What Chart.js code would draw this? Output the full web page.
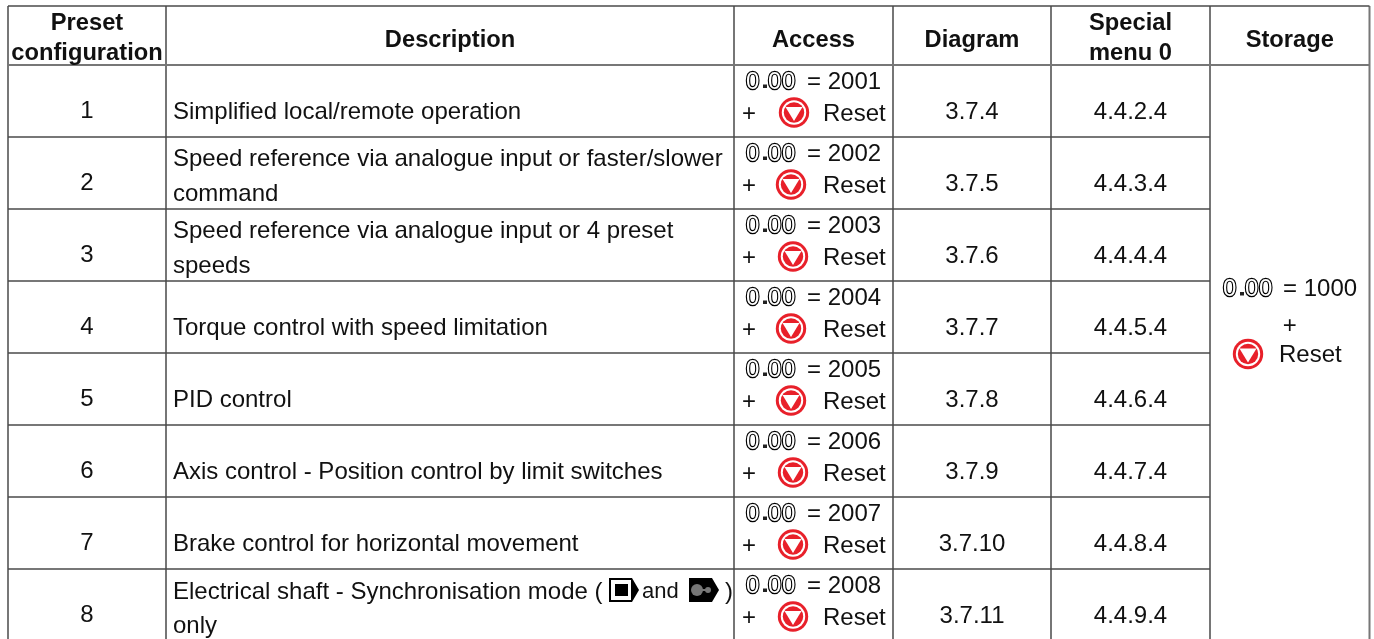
<!DOCTYPE html>
<html>
<head>
<meta charset="utf-8">
<title>Preset configurations</title>
<script src="https://cdn.jsdelivr.net/npm/chart.js@4/dist/chart.umd.js"></script>
<style>
  html, body { margin: 0; padding: 0; background: #fff; overflow: hidden; }
  #wrap { width: 1374px; height: 639px; }
</style>
</head>
<body>
<div id="wrap"><canvas id="chart"></canvas></div>
<script>
// table content
const headers = [["Preset", "configuration"], ["Description"], ["Access"], ["Diagram"], ["Special", "menu 0"], ["Storage"]];
const presets = ["1", "2", "3", "4", "5", "6", "7", "8"];
const descriptions = [
  ["Simplified local/remote operation"],
  ["Speed reference via analogue input or faster/slower", "command"],
  ["Speed reference via analogue input or 4 preset", "speeds"],
  ["Torque control with speed limitation"],
  ["PID control"],
  ["Axis control - Position control by limit switches"],
  ["Brake control for horizontal movement"],
  ["Electrical shaft - Synchronisation mode (", "only"]
];
const accessCodes = ["2001", "2002", "2003", "2004", "2005", "2006", "2007", "2008"];
const diagrams = ["3.7.4", "3.7.5", "3.7.6", "3.7.7", "3.7.8", "3.7.9", "3.7.10", "3.7.11"];
const specialMenus = ["4.4.2.4", "4.4.3.4", "4.4.4.4", "4.4.5.4", "4.4.6.4", "4.4.7.4", "4.4.8.4", "4.4.9.4"];
const storageCode = "1000";

// table layout, in scale units
const colEdges = [8, 166, 734, 893, 1051, 1210, 1369.5];
const rowEdges = [6, 65, 137, 209, 281, 353, 425, 497, 569, 641];
const stopIconX = [794, 791, 793, 791, 791, 793, 793, 793];

const FONT = '"Liberation Sans", Arial, sans-serif';
const RED = "#e8202a";
const RULE = "#4a4a4a";
const GREY_RULE = "#777777";

// one dataset per rule of the table
function rule(x1, y1, x2, y2, width, color) {
  return {
    data: [{ x: x1, y: y1 }, { x: x2, y: y2 }],
    showLine: true,
    pointRadius: 0,
    borderWidth: width,
    borderColor: color
  };
}

const rules = [];
rowEdges.forEach((y, i) => {
  // rows stop at the storage column, it is one merged cell
  const end = i < 2 ? colEdges[6] : colEdges[5];
  rules.push(rule(colEdges[0], y, end, y, i === 1 ? 2 : 1.5, i === 1 ? GREY_RULE : RULE));
});
colEdges.forEach((x, i) => {
  const outer = i === 0 || i === 6;
  rules.push(rule(x, rowEdges[0], x, 639, outer ? 2 : 1.5, outer ? GREY_RULE : RULE));
});

function stopIcon(ctx, cx, cy) {
  ctx.save();
  ctx.fillStyle = RED;
  ctx.beginPath(); ctx.arc(cx, cy, 15.2, 0, Math.PI * 2); ctx.fill();
  ctx.fillStyle = "#fff";
  ctx.beginPath(); ctx.arc(cx, cy, 12.2, 0, Math.PI * 2); ctx.fill();
  ctx.fillStyle = RED;
  ctx.beginPath(); ctx.arc(cx, cy, 10.2, 0, Math.PI * 2); ctx.fill();
  ctx.fillStyle = "#fff";
  ctx.beginPath();
  ctx.moveTo(cx - 8.5, cy - 5.5);
  ctx.lineTo(cx + 8.5, cy - 5.5);
  ctx.lineTo(cx, cy + 8.5);
  ctx.closePath();
  ctx.fill();
  ctx.restore();
}

function hollowZero(ctx, x, y) {
  // the keypad display "0.00" is drawn with outlined digits
  ctx.save();
  ctx.font = "24px " + FONT;
  ctx.textAlign = "left";
  ctx.lineWidth = 2.3;
  ctx.lineJoin = "round";
  ctx.strokeStyle = "#000";
  [0, 22, 36].forEach(dx => {
    ctx.fillStyle = "#fff";
    ctx.strokeText("0", x + dx, y);
    ctx.fillText("0", x + dx, y);
  });
  ctx.fillStyle = "#222";
  ctx.fillRect(x + 17, y - 4, 4, 3.5);
  ctx.restore();
}

function modeIcons(ctx, sx, sy) {
  // open loop and servo mode keys in the last description
  const px = v => sx.getPixelForValue(v);
  const py = v => sy.getPixelForValue(v);
  ctx.save();
  ctx.fillStyle = "#000";
  ctx.beginPath();
  ctx.moveTo(px(609), py(578)); ctx.lineTo(px(632), py(578)); ctx.lineTo(px(639), py(590));
  ctx.lineTo(px(632), py(602)); ctx.lineTo(px(609), py(602));
  ctx.closePath(); ctx.fill();
  ctx.fillStyle = "#fff";
  ctx.fillRect(px(611), py(580), 20, 20);
  ctx.fillStyle = "#000";
  ctx.fillRect(px(615), py(584), 13, 12);

  ctx.beginPath();
  ctx.moveTo(px(689), py(578)); ctx.lineTo(px(712), py(578)); ctx.lineTo(px(719), py(590));
  ctx.lineTo(px(712), py(602)); ctx.lineTo(px(689), py(602));
  ctx.closePath(); ctx.fill();
  ctx.fillStyle = "#777";
  ctx.beginPath(); ctx.arc(px(697), py(590), 6, 0, Math.PI * 2); ctx.fill();
  ctx.fillRect(px(701), py(589), 7, 2);
  ctx.beginPath(); ctx.arc(px(708), py(590), 3, 0, Math.PI * 2); ctx.fill();
  ctx.restore();
}

const tableText = {
  id: "tableText",
  afterDatasetsDraw(chart) {
    const ctx = chart.ctx;
    const sx = chart.scales.x;
    const sy = chart.scales.y;
    const center = i => sx.getPixelForValue((colEdges[i] + colEdges[i + 1]) / 2);
    const put = (text, x, y, align, bold) => {
      ctx.font = bold ? "bold 23.7px " + FONT : "24px " + FONT;
      ctx.textAlign = align;
      ctx.fillText(text, x, y);
    };
    ctx.save();
    ctx.fillStyle = "#111";
    ctx.textBaseline = "alphabetic";

    // header row
    const headerY = [[30, 60], [47], [47], [47], [30, 60], [47]];
    headers.forEach((lines, c) => {
      lines.forEach((line, l) => put(line, center(c), sy.getPixelForValue(headerY[c][l]), "center", true));
    });

    presets.forEach((p, r) => {
      const top = rowEdges[r + 1];
      const mid = v => sy.getPixelForValue(top + v);
      put(p, center(0), mid(53), "center");
      const lines = descriptions[r];
      const textX = sx.getPixelForValue(173);
      if (lines.length === 1) {
        put(lines[0], textX, mid(54), "left");
      } else {
        put(lines[0], textX, mid(r === 7 ? 30 : 29), "left");
        put(lines[1], textX, mid(64), "left");
      }
      hollowZero(ctx, sx.getPixelForValue(746), mid(23.5));
      ctx.fillStyle = "#111";
      put("= " + accessCodes[r], sx.getPixelForValue(807), mid(24), "left");
      put("+", sx.getPixelForValue(742), mid(56), "left");
      stopIcon(ctx, sx.getPixelForValue(stopIconX[r]), mid(47.5));
      ctx.fillStyle = "#111";
      put("Reset", sx.getPixelForValue(823), mid(56), "left");
      put(diagrams[r], center(3), mid(54), "center");
      put(specialMenus[r], center(4), mid(54), "center");
    });

    // last description carries the two mode keys
    ctx.font = "22px " + FONT;
    ctx.textAlign = "left";
    ctx.fillText("and", sx.getPixelForValue(642), sy.getPixelForValue(598));
    put(")", sx.getPixelForValue(725), sy.getPixelForValue(599), "left");
    modeIcons(ctx, sx, sy);

    // merged storage cell
    hollowZero(ctx, sx.getPixelForValue(1223), sy.getPixelForValue(296));
    ctx.fillStyle = "#111";
    put("= " + storageCode, sx.getPixelForValue(1283), sy.getPixelForValue(296), "left");
    put("+", center(5), sy.getPixelForValue(333), "center");
    stopIcon(ctx, sx.getPixelForValue(1248), sy.getPixelForValue(354));
    ctx.fillStyle = "#111";
    put("Reset", sx.getPixelForValue(1279), sy.getPixelForValue(362), "left");
    ctx.restore();
  }
};

new Chart(document.getElementById("chart"), {
  type: "scatter",
  data: { datasets: rules },
  options: {
    responsive: true,
    maintainAspectRatio: false,
    animation: false,
    events: [],
    layout: { padding: 0 },
    plugins: { legend: { display: false }, tooltip: { enabled: false } },
    scales: {
      x: { type: "linear", min: 0, max: 1374, display: false },
      y: { type: "linear", min: 0, max: 639, reverse: true, display: false }
    }
  },
  plugins: [tableText]
});
</script>
</body>
</html>
